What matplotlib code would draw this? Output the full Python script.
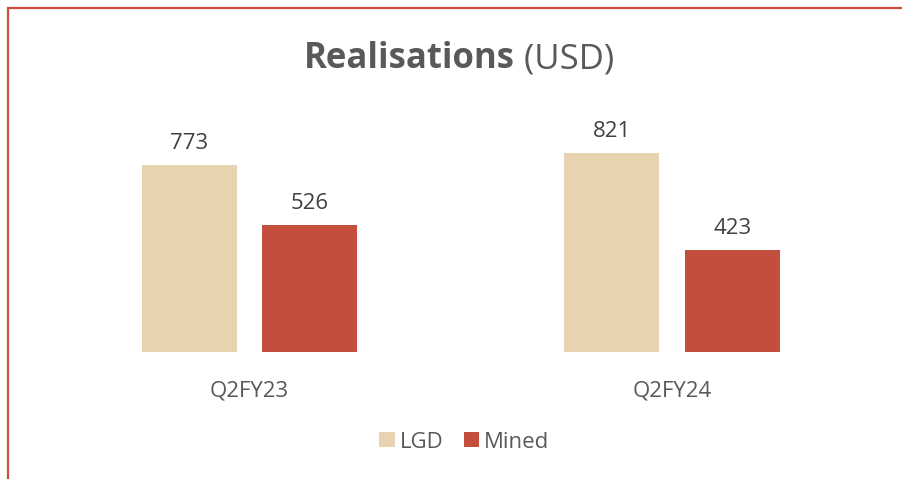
import matplotlib
matplotlib.use("Agg")
import matplotlib.pyplot as plt
from matplotlib.patches import Patch
from matplotlib.lines import Line2D
import numpy as np

categories = ["Q2FY23", "Q2FY24"]
series_names = ["LGD", "Mined"]
lgd_values = [773, 821]
mined_values = [526, 423]
colors = ["#E7D3B0", "#C44E3D"]
text_color = "#595959"
label_color = "#404040"

plt.rcParams['font.family'] = ['Open Sans', 'DejaVu Sans']

W, H = 903, 479
fig = plt.figure(figsize=(W / 100, H / 100), dpi=100)

ax_left, ax_right = 38.25, 883.25
ax_bottom_px = 352
ymax = 900
px_per_unit = 187 / 773
ax_h = ymax * px_per_unit
ax = fig.add_axes([ax_left / W, (H - ax_bottom_px) / H, (ax_right - ax_left) / W, ax_h / H])
ax.set_xlim(-0.5, 1.5)
ax.set_ylim(0, ymax)
ax.axis('off')

x = np.arange(len(categories))
bw = 0.225
off = 0.1425
series = [lgd_values, mined_values]
for i, (vals, col) in enumerate(zip(series, colors)):
    xs = x + (-off if i == 0 else off)
    ax.bar(xs, vals, width=bw, color=col, label=series_names[i])
    for xi, v in zip(xs, vals):
        ax.annotate(f"{v}", (xi, v), xytext=(0, 11.5), textcoords='offset points',
                    ha='center', va='baseline', fontsize=16, color=label_color,
                    annotation_clip=False)

for xi, c in zip(x, categories):
    ax.annotate(c, (xi, 0), xytext=(0, -(397 - 352) * 0.72), textcoords='offset points',
                ha='center', va='baseline', fontsize=16, color=text_color,
                annotation_clip=False)

fig.canvas.draw()
r = fig.canvas.get_renderer()
t1 = fig.text(0, 0, "Realisations", fontsize=25, fontweight='bold', color=text_color, va='baseline')
t2 = fig.text(0, 0, " (USD)", fontsize=25, color=text_color, va='baseline')
w1 = t1.get_window_extent(r).width
w2 = t2.get_window_extent(r).width
cx = 459
base_y = H - 68
start = cx - (w1 + w2) / 2
t1.set_position((start / W, base_y / H))
t2.set_position(((start + w1) / W, base_y / H))

handles = [Patch(facecolor=c, edgecolor='none') for c in colors]
fig.legend(handles, series_names, loc='center', bbox_to_anchor=(464.5 / W, (H - 442) / H),
           ncol=2, frameon=False, fontsize=16, labelcolor=text_color,
           handlelength=0.68, handleheight=0.68, handletextpad=0.22,
           columnspacing=0.95, borderpad=0, borderaxespad=0)

border = "#CC4E3F"
fig.add_artist(Line2D([8 / W, 8 / W], [0, (H - 8) / H], color=border, lw=1.6,
                      transform=fig.transFigure, solid_capstyle='butt'))
fig.add_artist(Line2D([7 / W, 1.0], [(H - 8) / H, (H - 8) / H], color=border, lw=1.6,
                      transform=fig.transFigure, solid_capstyle='butt'))

fig.savefig("out.png", dpi=100)
